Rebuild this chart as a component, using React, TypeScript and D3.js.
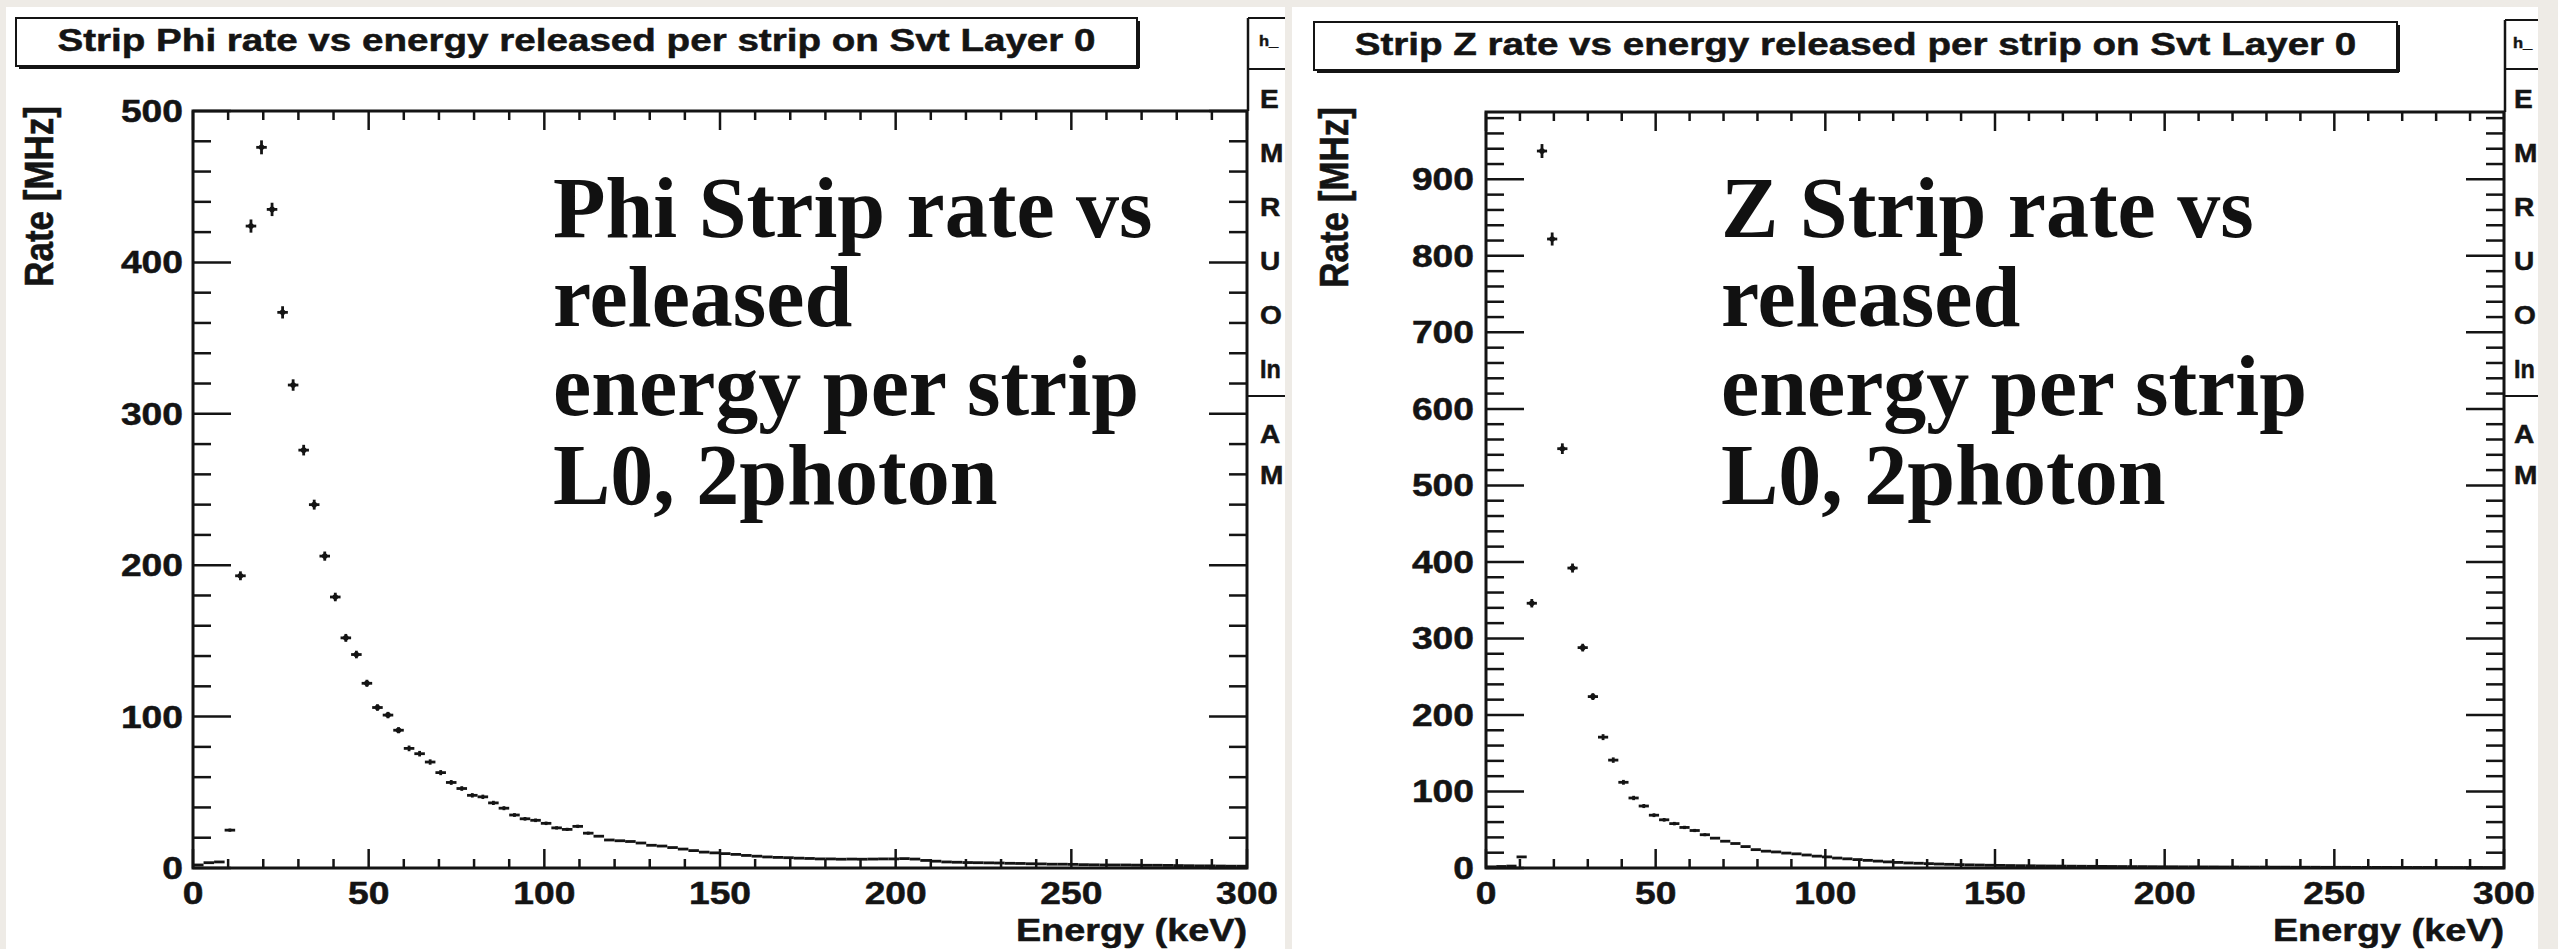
import React from "react";
import * as d3 from "d3";

// ---------- data ----------
const binWidth = 3; // keV
const binLowEdges = d3.range(0, 300, binWidth);

const phiRate = [
  2, 3.5, 4, 25, 193, 424, 476, 435, 367, 319,
  276, 240, 206, 179, 152, 141, 122, 106, 101, 91,
  79, 75.5, 70, 63, 56.5, 52.5, 48, 47, 43, 39.5,
  35, 32.5, 31.5, 29.5, 26.5, 25.5, 27.5, 23, 21, 18.5,
  18, 17.5, 16.5, 15, 14.5, 13.5, 12.5, 11.5, 10.5, 10,
  9.5, 9, 8.3, 7.8, 7.3, 7, 6.8, 6.5, 6.3, 6,
  6, 5.8, 5.9, 5.8, 5.9, 6, 6, 6.2, 5.9, 5,
  4.5, 4, 3.8, 3.6, 3.5, 3.4, 3.3, 3.1, 3, 2.8,
  2.7, 2.5, 2.5, 2.4, 2.2, 2.1, 2, 2, 2, 1.9,
  1.8, 1.8, 1.7, 1.6, 1.5, 1.4, 1.4, 1.3, 1.2, 1.2,
];

const zRate = [
  1.5, 2, 2.5, 14.5, 346, 937, 822, 548, 392, 288,
  224, 171, 141, 112, 91.5, 81, 69, 63, 58, 53,
  49, 43.5, 39, 35, 32, 28, 24, 22, 21, 19.5,
  18.5, 17, 15.5, 14.5, 13, 12, 11, 10, 9, 8,
  7.3, 6.6, 6.2, 5.7, 5.2, 4.8, 4.4, 4.1, 3.9, 3.6,
  3.4, 3.2, 3, 2.9, 2.7, 2.6, 2.5, 2.4, 2.3, 2.2,
  2.1, 2, 1.9, 1.8, 1.8, 1.7, 1.6, 1.6, 1.5, 1.5,
  1.4, 1.4, 1.3, 1.3, 1.2, 1.2, 1.2, 1.1, 1.1, 1.0,
  1.0, 1.0, 0.9, 0.9, 0.9, 0.8, 0.8, 0.8, 0.8, 0.7,
  0.7, 0.7, 0.7, 0.6, 0.6, 0.6, 0.6, 0.6, 0.5, 0.5,
];

const xTickValues = [0, 50, 100, 150, 200, 250, 300];
const phiYTicks = [0, 100, 200, 300, 400, 500];
const zYTicks = [0, 100, 200, 300, 400, 500, 600, 700, 800, 900];

const phiTitle = "Strip Phi rate vs energy released per strip on Svt Layer 0";
const zTitle = "Strip Z rate vs energy released per strip on Svt Layer 0";
const phiNote = ["Phi Strip rate vs", "released", "energy per strip", "L0, 2photon"];
const zNote = ["Z Strip rate vs", "released", "energy per strip", "L0, 2photon"];
// visible (clipped) fragments of the stats box entries
const statsLabels = ["E", "M", "R", "U", "O", "In"];
const statsLabels2 = ["A", "M"];
const statsHeader = "h_";
const xTitle = "Energy (keV)";
const yTitle = "Rate [MHz]";

// ---------- style ----------
const W = 2558;
const H = 949;
const BG = "#eeebe6";
const INK = "#141414";
const SANS = "'Liberation Sans', Arial, Helvetica, sans-serif";
const SERIF = "'Liberation Serif', 'Times New Roman', serif";
const SX = 1.24;

type PanelCfg = {
  white: [number, number];
  frame: { x0: number; x1: number; y0: number; y1: number };
  yMax: number;
  yTicks: number[];
  values: number[];
  title: string;
  titleBox: [number, number, number, number];
  titleBase: number;
  note: string[];
  noteX: number;
  statsX: number;
  statsTop: number;
  statsTextX: number;
  yTitleX: number;
  yLabelGap: number;
};

const panels: PanelCfg[] = [
  {
    white: [6, 1285],
    frame: { x0: 193, x1: 1247, y0: 868, y1: 111 },
    yMax: 500,
    yTicks: phiYTicks,
    values: phiRate,
    title: phiTitle,
    titleBox: [16, 18, 1137, 66],
    titleBase: 51,
    note: phiNote,
    noteX: 553,
    statsX: 1248,
    statsTop: 18,
    statsTextX: 1260,
    yTitleX: 53,
    yLabelGap: 10,
  },
  {
    white: [1292, 2538],
    frame: { x0: 1486, x1: 2504, y0: 868, y1: 112 },
    yMax: 988,
    yTicks: zYTicks,
    values: zRate,
    title: zTitle,
    titleBox: [1314, 22, 2397, 70],
    titleBase: 55,
    note: zNote,
    noteX: 1721,
    statsX: 2505,
    statsTop: 20,
    statsTextX: 2514,
    yTitleX: 1348,
    yLabelGap: 12,
  },
];

function SText(props: {
  x: number;
  y: number;
  size: number;
  anchor?: string;
  sx?: number;
  children: React.ReactNode;
}) {
  const { x, y, size, anchor = "start", sx = SX, children } = props;
  return (
    <text
      transform={`translate(${x},${y}) scale(${sx},1)`}
      textAnchor={anchor}
      fontSize={size}
      fontFamily={SANS}
      fontWeight="bold"
      fill={INK}
      stroke={INK}
      strokeWidth={0.5}
    >
      {children}
    </text>
  );
}

function Panel({ cfg }: { cfg: PanelCfg }) {
  const { frame } = cfg;
  const x = d3.scaleLinear().domain([0, 300]).range([frame.x0, frame.x1]);
  const y = d3.scaleLinear().domain([0, cfg.yMax]).range([frame.y0, frame.y1]);
  const xMinor = d3.range(0, 301, 10).filter((v) => v % 50 !== 0);
  const yMinor = d3.range(0, cfg.yMax + 0.001, 20).filter((v) => v % 100 !== 0);
  const yMajorLen = 38;
  const yMinorLen = 18;
  const xMajorLen = 19;
  const xMinorLen = 9;
  const [bx0, by0, bx1, by1] = cfg.titleBox;
  const statsRows = [108, 162, 216, 270, 324, 378];
  const statsRows2 = [443, 484];
  const wEdge = cfg.white[1];

  return (
    <g>
      <rect x={cfg.white[0]} y={7} width={cfg.white[1] - cfg.white[0]} height={H - 7} fill="#ffffff" />

      {/* title box with shadow */}
      <rect x={bx0} y={by0} width={bx1 - bx0} height={by1 - by0} fill="#fff" stroke={INK} strokeWidth={2} />
      <line x1={bx0 + 3} x2={bx1 + 2} y1={by1 + 1.5} y2={by1 + 1.5} stroke={INK} strokeWidth={3} />
      <line x1={bx1 + 1.5} x2={bx1 + 1.5} y1={by0 + 3} y2={by1 + 2} stroke={INK} strokeWidth={3} />
      <SText x={(bx0 + bx1) / 2} y={cfg.titleBase} size={31} anchor="middle" sx={1.245}>
        {cfg.title}
      </SText>

      {/* stats box: only its left part is inside the panel */}
      <line x1={cfg.statsX} x2={wEdge} y1={cfg.statsTop} y2={cfg.statsTop} stroke={INK} strokeWidth={2} />
      <line x1={cfg.statsX} x2={cfg.statsX} y1={cfg.statsTop} y2={frame.y1} stroke={INK} strokeWidth={2.5} />
      <line x1={cfg.statsX} x2={wEdge} y1={69} y2={69} stroke={INK} strokeWidth={2} />
      <line x1={cfg.statsX} x2={wEdge} y1={396} y2={396} stroke={INK} strokeWidth={2} />
      <SText x={cfg.statsTextX - 1} y={cfg.statsTop + 28} size={15} sx={1.1}>
        {statsHeader}
      </SText>
      {statsLabels.map((s, i) => (
        <SText key={`s${i}`} x={cfg.statsTextX} y={statsRows[i]} size={26} sx={s.length > 1 ? 0.9 : 1.08}>
          {s}
        </SText>
      ))}
      {statsLabels2.map((s, i) => (
        <SText key={`t${i}`} x={cfg.statsTextX} y={statsRows2[i]} size={26} sx={1.08}>
          {s}
        </SText>
      ))}

      {/* frame */}
      <rect
        x={frame.x0}
        y={frame.y1}
        width={frame.x1 - frame.x0}
        height={frame.y0 - frame.y1}
        fill="#fff"
        stroke={INK}
        strokeWidth={3}
      />

      {/* x ticks bottom & top */}
      {xTickValues.map((v) => (
        <g key={`xm${v}`}>
          <line x1={x(v)} x2={x(v)} y1={frame.y0} y2={frame.y0 - xMajorLen} stroke={INK} strokeWidth={2.5} />
          <line x1={x(v)} x2={x(v)} y1={frame.y1} y2={frame.y1 + xMajorLen} stroke={INK} strokeWidth={2.5} />
        </g>
      ))}
      {xMinor.map((v) => (
        <g key={`xn${v}`}>
          <line x1={x(v)} x2={x(v)} y1={frame.y0} y2={frame.y0 - xMinorLen} stroke={INK} strokeWidth={2.5} />
          <line x1={x(v)} x2={x(v)} y1={frame.y1} y2={frame.y1 + xMinorLen} stroke={INK} strokeWidth={2.5} />
        </g>
      ))}
      {/* y ticks left & right */}
      {cfg.yTicks.map((v) => (
        <g key={`ym${v}`}>
          <line x1={frame.x0} x2={frame.x0 + yMajorLen} y1={y(v)} y2={y(v)} stroke={INK} strokeWidth={2.5} />
          <line x1={frame.x1} x2={frame.x1 - yMajorLen} y1={y(v)} y2={y(v)} stroke={INK} strokeWidth={2.5} />
        </g>
      ))}
      {yMinor.map((v) => (
        <g key={`yn${v}`}>
          <line x1={frame.x0} x2={frame.x0 + yMinorLen} y1={y(v)} y2={y(v)} stroke={INK} strokeWidth={2.5} />
          <line x1={frame.x1} x2={frame.x1 - yMinorLen} y1={y(v)} y2={y(v)} stroke={INK} strokeWidth={2.5} />
        </g>
      ))}

      {/* tick labels */}
      {xTickValues.map((v) => (
        <SText key={`xl${v}`} x={x(v)} y={904} size={31} anchor="middle" sx={1.2}>
          {String(v)}
        </SText>
      ))}
      {cfg.yTicks.map((v) => (
        <SText key={`yl${v}`} x={frame.x0 - cfg.yLabelGap} y={y(v) + 11} size={31} anchor="end" sx={1.2}>
          {String(v)}
        </SText>
      ))}

      {/* axis titles */}
      <SText x={frame.x1} y={941} size={31} anchor="end" sx={1.22}>
        {xTitle}
      </SText>
      <text
        transform={`translate(${cfg.yTitleX},${frame.y1 - 5}) rotate(-90) scale(1,1.15)`}
        textAnchor="end"
        fontSize={35}
        fontFamily={SANS}
        fontWeight="bold"
        fill={INK}
        stroke={INK}
        strokeWidth={0.5}
      >
        {yTitle}
      </text>

      {/* histogram points with error bars */}
      <g stroke={INK} strokeWidth={2.8} fill={INK}>
        {cfg.values.map((v, i) => {
          const lo = binLowEdges[i];
          const cx = x(lo + binWidth / 2);
          const cy = y(v);
          const e = 0.26 * Math.sqrt(Math.max(0, frame.y0 - cy));
          return (
            <g key={`p${i}`}>
              <line x1={x(lo)} x2={x(lo + binWidth)} y1={cy} y2={cy} />
              {e > 1.5 && <line x1={cx} x2={cx} y1={cy - e} y2={cy + e} />}
              {e > 3 && <circle cx={cx} cy={cy} r={2.8} stroke="none" />}
            </g>
          );
        })}
      </g>

      {/* annotation overlay */}
      {cfg.note.map((line, i) => (
        <text
          key={`n${i}`}
          x={cfg.noteX}
          y={237 + i * 89}
          fontSize={86}
          fontFamily={SERIF}
          fontWeight="bold"
          fill="#111"
        >
          {line}
        </text>
      ))}
    </g>
  );
}

export default function App() {
  return (
    <svg
      width={W}
      height={H}
      viewBox={`0 0 ${W} ${H}`}
      style={{ position: "absolute", left: 0, top: 0, display: "block" }}
    >
      <rect x={0} y={0} width={W} height={H} fill={BG} />
      {panels.map((p, i) => (
        <Panel key={i} cfg={p} />
      ))}
    </svg>
  );
}
